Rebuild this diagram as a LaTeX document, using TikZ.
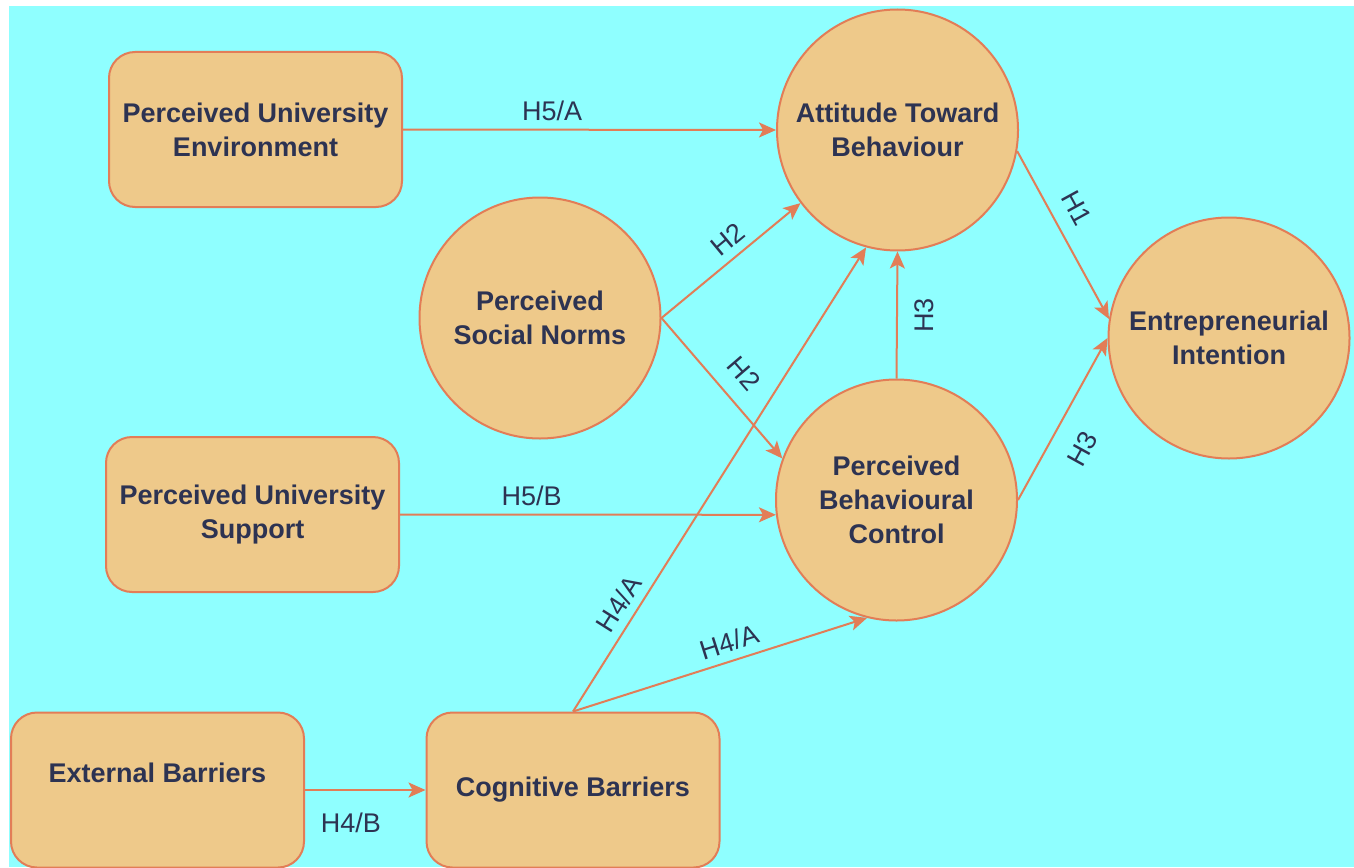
\documentclass[tikz,border=0pt]{standalone}
\usepackage{fontspec}
\setmainfont{Liberation Sans}
\usetikzlibrary{arrows.meta}
\definecolor{sky}{HTML}{8FFFFF}
\definecolor{sand}{HTML}{EEC98A}
\definecolor{rust}{HTML}{E27D57}
\definecolor{ink}{HTML}{2D3352}
\def\bigtxt{\bfseries\fontsize{27}{34}\selectfont}
\tikzset{
  box/.style={draw=rust,fill=sand,line width=2pt,rounded corners=26pt,
    minimum width=293pt,minimum height=155pt,align=center,text=ink,font=\bigtxt},
  bubble/.style={circle,draw=rust,fill=sand,line width=2pt,minimum size=241pt,
    inner sep=0pt,align=center,text=ink,font=\bigtxt},
  link/.style={draw=rust,line width=2pt,-{Stealth[length=17pt,width=15pt,inset=4pt]}},
  lab/.style={text=ink,font=\fontsize{27}{32}\selectfont,sloped,inner sep=2pt},
}

\begin{document}
\begin{tikzpicture}[x=1pt,y=-1pt]
\useasboundingbox (0,0) rectangle (1354,867);
\fill[white] (0,0) rectangle (1354,867);
\fill[sky] (9,6) rectangle (1354,867);
% blocks
\node[box] (pue) at (255.5,129.5) {Perceived University\\Environment};
\node[box] (pus) at (252.5,514.5) {Perceived University\\Support};
\node[box,text depth=34pt] (eb) at (157.5,790) {External Barriers};
\node[box] (cb) at (573,790) {Cognitive Barriers};
% constructs
\node[bubble] (atb) at (897.5,130) {Attitude Toward\\Behaviour};
\node[bubble] (psn) at (540,318) {Perceived\\Social Norms};
\node[bubble] (pbc) at (896.5,500) {Perceived\\Behavioural\\Control};
\node[bubble] (ei) at (1229,338) {Entrepreneurial\\Intention};
% hypotheses
\draw[link] (pue.east) -- node[lab,above=6pt,pos=0.4] {H5/A} (atb.west);
\draw[link] (psn.east) -- node[lab,above=6pt,pos=0.56] {H2} (atb.217);
\draw[link] (psn.east) -- node[lab,above=14pt,pos=0.52] {H2} (pbc.160);
\draw[link] (pbc.north) -- node[lab,below=15pt,pos=0.5] {H3} (atb.south);
\draw[link] (atb.350) -- node[lab,above=13pt,pos=0.41] {H1} (ei.171);
\draw[link] (pbc.east) -- node[lab,below=19pt,pos=0.41] {H3} (ei.west);
\draw[link] (pus.east) -- node[lab,above=6pt,pos=0.35] {H5/B} (pbc.187);
\draw[link] (cb.north) -- node[lab,above=6pt,pos=0.21] {H4/A} (atb.255);
\draw[link] (cb.north) -- node[lab,above=6pt,pos=0.55] {H4/A} (pbc.256);
\draw[link] (eb.east) -- node[lab,below=20pt,pos=0.38] {H4/B} (cb.west);
\end{tikzpicture}
\end{document}
